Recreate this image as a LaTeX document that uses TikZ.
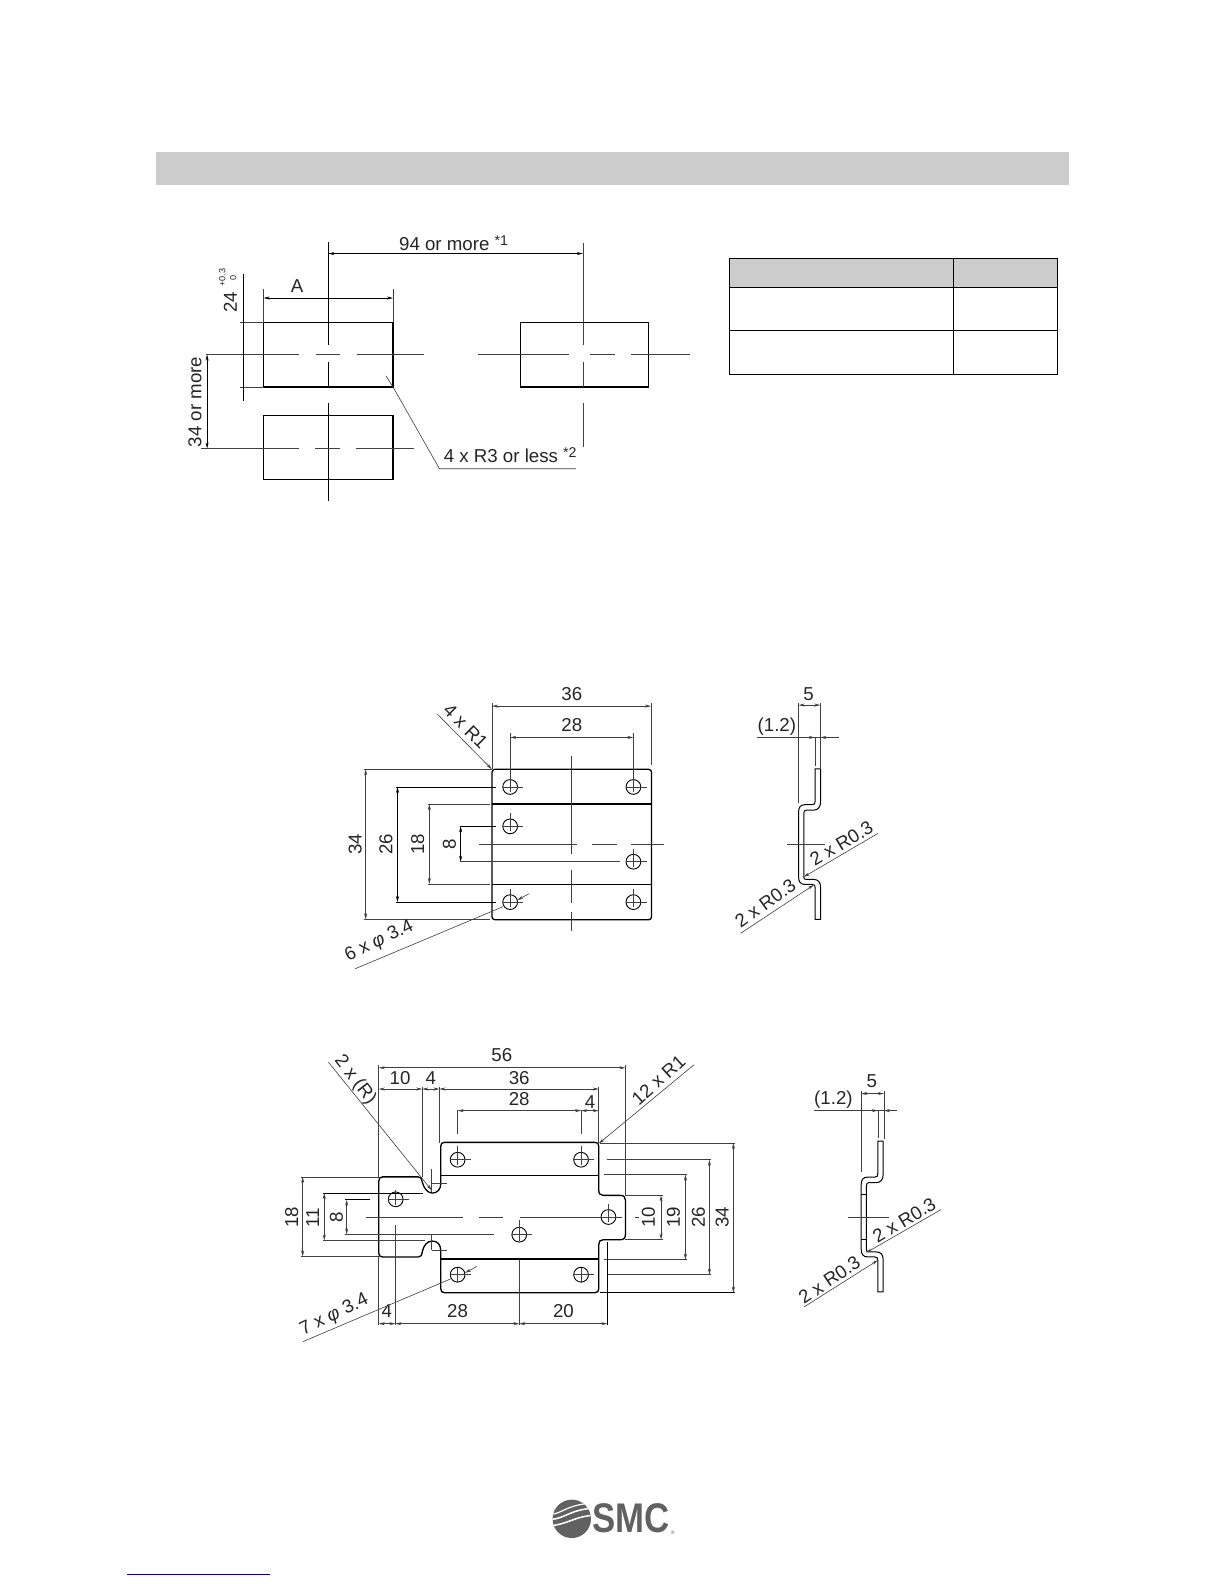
\documentclass[tikz,border=0pt]{standalone}
\usepackage{fontspec}
\setmainfont{Liberation Sans}
\usetikzlibrary{arrows.meta}
\tikzset{
  thinl/.style={line width=0.6pt,draw=black!75},
  outl/.style={line width=1.3pt,draw=black},
  dimb/.style={thinl,{Stealth[length=6pt,width=3pt]}-{Stealth[length=6pt,width=3pt]}},
  tipend/.style={thinl,-{Stealth[length=6pt,width=3pt]}},
  lab/.style={inner sep=0pt,font=\fontsize{18.5}{18.5}\selectfont,text=black!85},
  labr/.style={lab,rotate=90},
  hole/.style={line width=0.9pt,draw=black},
}
\newcommand{\crossh}[2]{\draw[thinl] (#1-7.3,#2) -- (#1+13,#2);}
\newcommand{\phisym}{{\itshape φ}}
\begin{document}
\begin{tikzpicture}[x=1pt,y=-1pt]
\useasboundingbox (0,0) rectangle (1212,1568);
\fill[white] (0,0) rectangle (1212,1568);
% top band
\fill[black!20] (154,150) rectangle (1058,183);
% table
\fill[black!20] (722,256) rectangle (1047,285);
\draw[line width=1.1pt] (722,256) rectangle (1047,371);
\draw[line width=1.1pt] (722,285) -- (1047,285) (722,327) -- (1047,327) (944,256) -- (944,371);
% cut-out rectangles
\draw[line width=1.2pt] (261,319) rectangle (389,383);
\draw[line width=1.2pt] (515,319) rectangle (642,383);
\draw[line width=1.2pt] (261,411) rectangle (389,475);
% centre lines, section 1
\draw[thinl,draw=black] (325,240) -- (325,342) (325,358) -- (325,383) (325,399) -- (325,496);
\draw[thinl] (204,351) -- (296,351) (313,351) -- (337,351) (353,351) -- (420,351)
  (473,351) -- (563,351) (584,351) -- (609,351) (625,351) -- (683,351);
\draw[thinl] (577,241) -- (577,342) (577,358) -- (577,383) (577,399) -- (577,442);
\draw[thinl] (199,444) -- (296,444) (312,444) -- (337,444) (352,444) -- (410,444);
% dims, section 1
\draw[dimb,draw=black] (325,251) -- (577,251);
\node[lab] (t94) at (449,241) {94 or more \raisebox{5pt}{\fontsize{14}{14}\selectfont *1}};
\draw[thinl] (261,286) -- (261,319) (389,286) -- (389,319);
\draw[dimb,draw=black] (261,295) -- (389,295);
\node[lab] (tA) at (294,283) {A};
\draw[thinl] (238,319) -- (261,319) (238,383) -- (261,383);
\draw[thinl,draw=black] (241,271) -- (241,397);
\node[labr] (t24) at (228,299) {24};
\node[labr,font=\fontsize{9}{9}\selectfont] (tolu) at (220,275) {+0.3};
\node[labr,font=\fontsize{9}{9}\selectfont] (toll) at (231,275) {0};
\draw[dimb,draw=black] (205,351) -- (205,444);
\node[labr] (t34m) at (193,398) {34 or more};
\draw[thinl] (382,372) -- (389,383) -- (435,464) -- (570,464);
\node[lab] (tr3) at (505,451) {4 x R3 or less \raisebox{5pt}{\fontsize{14}{14}\selectfont *2}};
% section 2 plate
\draw[outl] (487,761.5) [rounded corners=3pt] -- (645,761.5) -- (645,910.5) -- (487,910.5) -- cycle;
\draw[outl] (487,796) -- (645,796) (487,875.5) -- (645,875.5);
\foreach \cx/\cy in {505/779,627/779,505/818,627/853,505/893,627/893}{
  \draw[hole] (\cx,\cy) circle[radius=7.3];
  \crossh{\cx}{\cy}
  \draw[thinl] (\cx,\cy-13) -- (\cx,\cy+5);
}
\draw[thinl] (565.5,748) -- (565.5,845) (565.5,861) -- (565.5,894) (565.5,903) -- (565.5,922);
\draw[thinl] (474,835.5) -- (571,835.5) (586,835.5) -- (610.5,835.5) (625,835.5) -- (657,835.5);
% dims section 2
\draw[thinl] (487,696) -- (487,761) (644.5,696) -- (644.5,757);
\draw[dimb] (487,699) -- (644.5,699);
\node[lab] (t36a) at (566,687) {36};
\draw[thinl] (505,726) -- (505,772) (627,726) -- (627,772);
\draw[dimb] (505,730) -- (627,730);
\node[lab] (t28a) at (566,718) {28};
\draw[thinl] (360,761.5) -- (487,761.5) (360,910) -- (485,910);
\draw[dimb] (362,761.5) -- (362,910);
\node[labr] (t34a) at (351.5,836) {34};
\draw[thinl,draw=black] (392,779) -- (491,779) (392,893) -- (491,893);
\draw[dimb,draw=black] (393.5,779) -- (393.5,893);
\node[labr] (t26a) at (382,836) {26};
\draw[thinl] (424,796) -- (485,796) (424,875) -- (485,875);
\draw[dimb] (425,796) -- (425,875);
\node[labr] (t18a) at (413.5,835.5) {18};
\draw[thinl,draw=black] (455,818) -- (491,818);
\draw[thinl] (455,853) -- (614,853);
\draw[dimb,draw=black] (456,818) -- (456,853);
\node[labr] (t8a) at (445,835.5) {8};
\draw[tipend] (433,707) -- (486.8,761.4);
\node[lab,rotate=-45] (tr1) at (461,719) {4 x R1};
\draw[thinl] (351.5,959) -- (498,897.5);
\draw[tipend] (524,884.5) -- (512,891);
\node[lab,rotate=26] (tphi6) at (375.5,932) {6 x \phisym\ 3.4};
% side view 1
\draw[line width=1pt] (806.9,761) -- (812.3,761) -- (812.3,793) .. controls (812.3,799) and (810,802) .. (805,802) -- (798,802) .. controls (796.3,802) and (795.7,803) .. (795.7,805) -- (795.7,868) .. controls (795.7,870) and (796.3,870.5) .. (798,870.5) -- (805,870.5) .. controls (810,870.5) and (812.3,873) .. (812.3,879) -- (812.3,910) -- (806.9,910) -- (806.9,879) .. controls (806.9,876.5) and (806.5,875.5) .. (804,875.5) -- (797,875.5) .. controls (792.5,875.5) and (790.5,873) .. (790.5,868) -- (790.5,804) .. controls (790.5,799) and (792.5,796.5) .. (797,796.5) -- (804,796.5) .. controls (806.5,796.5) and (806.9,795.5) .. (806.9,793) -- cycle;
\draw[thinl] (790,696) -- (790,795) (812,696) -- (812,760) (806.6,730) -- (806.6,758);
\draw[dimb] (790.5,698) -- (812,698);
\node[lab] (t5a) at (800.5,687) {5};
\draw[thinl] (749,730) -- (831,730);
\draw[tipend] (799,730) -- (806.6,730);
\draw[tipend] (819,730) -- (812,730);
\node[lab] (t12a) at (769,719.5) {(1.2)};
\draw[thinl] (779,835.5) -- (817,835.5);
\draw[tipend] (733,924) -- (805.5,876);
\draw[tipend] (869,825) -- (795.7,868);
\node[lab,rotate=36] (tr03a) at (757.5,894) {2 x R0.3};
\node[lab,rotate=31] (tr03b) at (833,835) {2 x R0.3};
% section 3 plate
\draw[outl] (378,1165) -- (414,1165) .. controls (417,1165) and (417.5,1167) .. (418,1170) .. controls (419.5,1177) and (424,1181) .. (428,1181) .. controls (433,1181) and (436.3,1177) .. (436.3,1172) -- (436.3,1134.8) .. controls (436.3,1132) and (437.5,1130.8) .. (440,1130.8) -- (589,1130.8) .. controls (591.5,1130.8) and (592.7,1132) .. (592.7,1134.8) -- (592.7,1178) .. controls (592.7,1181.5) and (594,1183.3) .. (597,1183.3) -- (614,1183.3) .. controls (617.5,1183.3) and (619.1,1185) .. (619.1,1188) -- (619.1,1222) .. controls (619.1,1225.5) and (617.5,1227.2) .. (614,1227.2) -- (597,1227.2) .. controls (594,1227.2) and (592.7,1229) .. (592.7,1232) -- (592.7,1275.6) .. controls (592.7,1278.4) and (591.5,1279.6) .. (589,1279.6) -- (440,1279.6) .. controls (437.5,1279.6) and (436.3,1278.4) .. (436.3,1275.6) -- (436.3,1238) .. controls (436.3,1232) and (433,1228.5) .. (428,1228.5) .. controls (423,1228.5) and (419.5,1232.5) .. (418,1239) .. controls (417.5,1242.5) and (417,1244.3) .. (414,1244.3) -- (379,1244.3) .. controls (376,1244.3) and (374.9,1243) .. (374.9,1240) -- (374.9,1169.5) .. controls (374.9,1166.5) and (376,1165) .. (379,1165) -- cycle;
\draw[outl] (436.3,1163.5) -- (592.7,1163.5) (436.3,1246.3) -- (592.7,1246.3);
\foreach \cx/\cy in {453/1148,575.2/1148,391.7/1187.2,602.3/1204.7,514/1222.2,453/1261.8,575.2/1261.8}{
  \draw[hole] (\cx,\cy) circle[radius=7.3];
  \crossh{\cx}{\cy}
}
\draw[thinl] (453,1134) -- (453,1153) (575.2,1134) -- (575.2,1153)
  (453,1255) -- (453,1270) (575.2,1255) -- (575.2,1270)
  (391.7,1178) -- (391.7,1193) (602.3,1191.5) -- (602.3,1210) (514,1208) -- (514,1228);
\draw[thinl] (362,1205.4) -- (458,1205.4) (474.6,1205.4) -- (498.3,1205.4) (514.8,1205.4) -- (615.5,1205.4) (628.4,1205.4) -- (633,1205.4);
\draw[thinl] (427.4,1157) -- (427.4,1180) (427.4,1171.7) -- (442.2,1171.7)
  (427.4,1223) -- (427.4,1237.7) (427.4,1237.7) -- (442.2,1237.7);
% dims section 3, top
\draw[thinl] (374.9,1054.6) -- (374.9,1165) (619,1054.6) -- (619,1183);
\draw[dimb] (374.9,1057) -- (619.1,1057);
\node[lab] (t56) at (496.7,1044) {56};
\draw[thinl] (418,1076) -- (418,1165) (435,1076) -- (435,1131) (592.7,1076) -- (592.7,1131);
\draw[dimb] (374.9,1078) -- (418,1078);
\draw[dimb] (418,1078) -- (435,1078);
\draw[dimb] (435,1078) -- (592.7,1078);
\node[lab] (t10t) at (396,1067) {10};
\node[lab] (t4t) at (426.4,1067) {4};
\node[lab] (t36b) at (514,1067) {36};
\draw[thinl] (453,1099) -- (453,1123) (575.2,1099) -- (575.2,1123);
\draw[dimb] (453,1099.4) -- (575.2,1099.4);
\draw[dimb] (575.2,1099.4) -- (592.7,1099.4);
\node[lab] (t28b) at (514,1088) {28};
\node[lab] (t4b) at (584,1091) {4};
% right dims
\draw[thinl] (594,1131.5) -- (728,1131.5);
\draw[thinl,draw=black] (594,1279.6) -- (728,1279.6);
\draw[dimb] (726,1131.5) -- (726,1279.6);
\node[labr] (t34b) at (715,1205) {34};
\draw[thinl] (600.6,1148) -- (704,1148) (602,1261.8) -- (704,1261.8);
\draw[dimb] (702.3,1148) -- (702.3,1261.8);
\node[labr] (t26b) at (691.4,1205) {26};
\draw[thinl] (598,1162.8) -- (680.5,1162.8) (598,1247) -- (680.5,1247);
\draw[dimb] (678.5,1162.8) -- (678.5,1247);
\node[labr] (t19) at (666.6,1205) {19};
\draw[thinl] (619,1183.3) -- (656,1183.3) (619,1227) -- (656,1227);
\draw[dimb] (654.4,1183.3) -- (654.4,1227);
\node[labr] (t10r) at (641.9,1205) {10};
% left dims
\draw[thinl] (297.7,1165) -- (375,1165) (297.7,1243.7) -- (375,1243.7);
\draw[dimb] (299.6,1165) -- (299.6,1243.7);
\node[labr] (t18b) at (288.7,1205) {18};
\draw[thinl,draw=black] (320,1181) -- (419,1181);
\draw[thinl] (320,1228) -- (420.7,1228);
\draw[dimb] (321,1181) -- (321,1228);
\node[labr] (t11) at (309.5,1205) {11};
\draw[thinl,draw=black] (341.6,1187.6) -- (366.3,1187.6);
\draw[thinl] (341.6,1221.9) -- (489,1221.9);
\draw[dimb] (343.2,1187.6) -- (343.2,1221.9);
\node[labr] (t8b) at (333,1205) {8};
% bottom dims
\draw[thinl] (374.9,1244) -- (374.9,1312) (391.4,1213) -- (391.4,1312) (514,1247) -- (514,1312);
\draw[thinl,draw=black] (601.3,1229.5) -- (601.3,1312);
\draw[dimb] (374.9,1310.3) -- (391.4,1310.3);
\draw[dimb] (391.4,1310.3) -- (514,1310.3);
\draw[dimb] (514,1310.3) -- (601.3,1310.3);
\node[lab] (t4l) at (382.8,1298) {4};
\node[lab] (t28c) at (453,1298) {28};
\node[lab] (t20) at (557.7,1298) {20};
% leaders section 3
\draw[tipend] (325,1051.3) -- (427.4,1178.3);
\node[lab,rotate=-52] (trr) at (351.5,1069) {2 x (R)};
\draw[tipend] (687,1054) -- (592.7,1132);
\node[lab,rotate=42] (tr1b) at (651.8,1069) {12 x R1};
\draw[thinl] (300,1328) -- (446,1266);
\draw[tipend] (472,1253.6) -- (460.4,1260);
\node[lab,rotate=26] (tphi7) at (331,1302) {7 x \phisym\ 3.4};
% side view 2
\begin{scope}[shift={(62,368.7)}]
\draw[line width=1pt] (806.9,761) -- (812.3,761) -- (812.3,793) .. controls (812.3,799) and (810,802) .. (805,802) -- (798,802) .. controls (796.3,802) and (795.7,803) .. (795.7,805) -- (795.7,868) .. controls (795.7,870) and (796.3,870.5) .. (798,870.5) -- (805,870.5) .. controls (810,870.5) and (812.3,873) .. (812.3,879) -- (812.3,910) -- (806.9,910) -- (806.9,879) .. controls (806.9,876.5) and (806.5,875.5) .. (804,875.5) -- (797,875.5) .. controls (792.5,875.5) and (790.5,873) .. (790.5,868) -- (790.5,804) .. controls (790.5,799) and (792.5,796.5) .. (797,796.5) -- (804,796.5) .. controls (806.5,796.5) and (806.9,795.5) .. (806.9,793) -- cycle;
\draw[line width=1pt] (790.5,813.5) -- (795.7,813.5) (790.5,858) -- (795.7,858);
\end{scope}
\draw[thinl] (852.5,1080) -- (852.5,1160) (875,1080) -- (875,1127) (869,1099) -- (869,1126);
\draw[dimb] (852.5,1082.5) -- (875,1082.5);
\node[lab] (t5b) at (863,1070) {5};
\draw[thinl] (806,1099.4) -- (888,1099.4);
\draw[tipend] (861,1099.4) -- (869,1099.4);
\draw[tipend] (882,1099.4) -- (875,1099.4);
\node[lab] (t12b) at (825,1088.5) {(1.2)};
\draw[thinl] (839,1205.3) -- (880,1205.3);
\draw[tipend] (796,1293.7) -- (869,1247.5);
\draw[tipend] (931.4,1197.4) -- (857.5,1240);
\node[lab,rotate=34] (tr03c) at (821,1267) {2 x R0.3};
\node[lab,rotate=31] (tr03d) at (895,1208) {2 x R0.3};
% logo
\fill[black!62] (566,1503.5) circle[radius=19];
\begin{scope}
\clip (566,1503.5) circle[radius=19];
\draw[white,line width=1.5pt] (545,1504) .. controls (558,1504) and (566,1493) .. (590,1493);
\draw[white,line width=1.5pt] (545,1510) .. controls (560,1510) and (570,1500) .. (590,1500);
\draw[white,line width=1.2pt] (545,1499) .. controls (556,1499) and (562,1488) .. (590,1488);
\end{scope}
\node[inner sep=0pt,font=\bfseries\fontsize{41}{41}\selectfont,text=black!62,xscale=0.84] (smc) at (624.5,1503) {SMC};
\node[inner sep=0pt,font=\fontsize{5}{5}\selectfont,text=black!62] (reg) at (666,1517) {®};
% bottom rule
\draw[line width=1.1pt,draw=blue!55!black] (126,1558.5) -- (267,1558.5);
\end{tikzpicture}
\end{document}
